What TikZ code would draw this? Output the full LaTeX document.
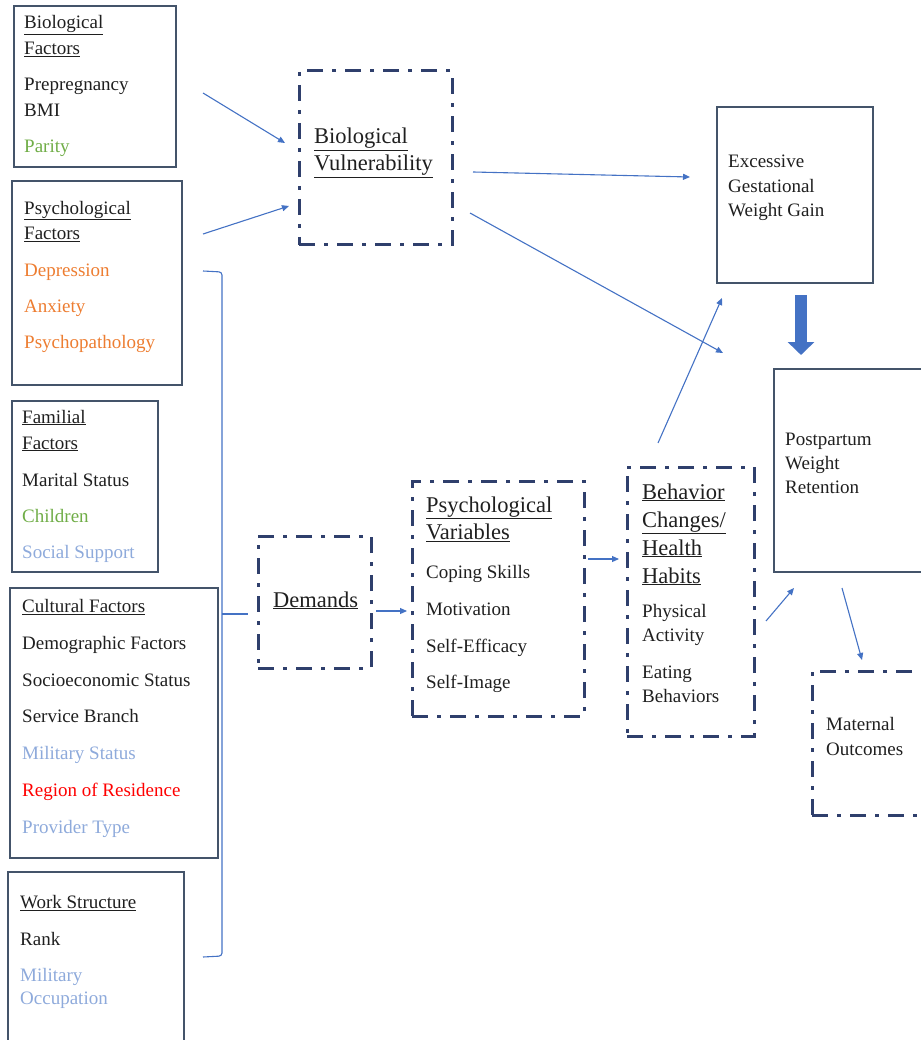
\documentclass[tikz,border=0pt]{standalone}
\usepackage{fontspec}
\setmainfont{Liberation Serif}
\usetikzlibrary{arrows.meta,calc}
\definecolor{Frame}{HTML}{44546A}
\definecolor{Navy}{HTML}{2F3F6C}
\definecolor{Link}{HTML}{4472C4}
\definecolor{Ink}{HTML}{1F1F1F}
\definecolor{Leaf}{HTML}{70AD47}
\definecolor{Amber}{HTML}{ED7D31}
\definecolor{Sky}{HTML}{8EAADB}
\definecolor{Alert}{HTML}{FF0000}
\newcommand{\tophead}[1]{{\fontsize{22.5}{27}\selectfont\underline{#1}}}

\begin{document}
\begin{tikzpicture}[
  x=1pt,y=-1pt,
  box/.style={draw=Frame,line width=1.2pt,anchor=north west,inner sep=0pt,outer sep=0pt},
  dbox/.style={box,draw=Navy,line width=3pt,dash pattern=on 16pt off 9pt on 4pt off 9pt},
  txt/.style={anchor=base west,inner sep=0pt,align=left,text=Ink,font=\fontsize{19}{26}\selectfont},
  arrow/.style={-{Triangle[length=7pt,width=6pt]},line width=1.1pt,draw=Link},
  link/.style={line width=1.1pt,draw=Link,rounded corners=3pt},
  fat/.style={-{Triangle[length=13pt,width=26pt]},line width=12pt,draw=Link}
]
\useasboundingbox (0,0) rectangle (920,1040);

\node[box,minimum width=162pt,minimum height=161pt] (biofac) at (14,6) {};
\node[txt] (biofac-t) at (24,153) {\underline{Biological}\\\underline{Factors}\\[10pt]Prepregnancy\\BMI\\[10pt]\textcolor{Leaf}{Parity}};
\node[box,minimum width=170pt,minimum height=204pt] (psyfac) at (12,181) {};
\node[txt] (psyfac-t) at (24,348) {\underline{Psychological}\\\underline{Factors}\\[10pt]\textcolor{Amber}{Depression}\\[10pt]\textcolor{Amber}{Anxiety}\\[10pt]\textcolor{Amber}{Psychopathology}};
\node[box,minimum width=146pt,minimum height=171pt] (famfac) at (12,401) {};
\node[txt] (famfac-t) at (22,558) {\underline{Familial}\\\underline{Factors}\\[11pt]Marital Status\\[10pt]\textcolor{Leaf}{Children}\\[10pt]\textcolor{Sky}{Social Support}};
\node[box,minimum width=208pt,minimum height=270pt] (culfac) at (10,588) {};
\node[txt] (culfac-t) at (22,833) {\underline{Cultural Factors}\\[10.7pt]Demographic Factors\\[10.7pt]Socioeconomic Status\\[10.7pt]Service Branch\\[10.7pt]\textcolor{Sky}{Military Status}\\[10.7pt]\textcolor{Alert}{Region of Residence}\\[10.7pt]\textcolor{Sky}{Provider Type}};
\node[box,minimum width=176pt,minimum height=180pt] (workst) at (8,872) {};
\node[txt] (workst-t) at (20,1004) {\underline{Work Structure}\\[11pt]Rank\\[10pt]\textcolor{Sky}{Military}\\[-3.5pt]\textcolor{Sky}{Occupation}};

\node[dbox,minimum width=153pt,minimum height=174pt] (biovul) at (299,71) {};
\node[txt,font=\fontsize{22.5}{27}\selectfont] (biovul-t) at (314,171) {\underline{Biological}\\\underline{Vulnerability}};
\node[box,minimum width=156pt,minimum height=176pt] (egwg) at (717,107) {};
\node[txt,font=\fontsize{19}{24.5}\selectfont] (egwg-t) at (728,217) {Excessive\\Gestational\\Weight Gain};
\node[box,minimum width=170pt,minimum height=203pt] (pwr) at (774,369) {};
\node[txt,font=\fontsize{19}{24}\selectfont] (pwr-t) at (785,493) {Postpartum\\Weight\\Retention};
\node[dbox,minimum width=113pt,minimum height=132pt] (demands) at (258,536) {};
\node[txt] (demands-t) at (273,607) {\tophead{Demands}};
\node[dbox,minimum width=172pt,minimum height=235pt] (psyvar) at (412,481) {};
\node[txt,font=\fontsize{19}{27}\selectfont] (psyvar-t) at (426,688) {\tophead{Psychological}\\\tophead{Variables}\\[12pt]Coping Skills\\[10pt]Motivation\\[10pt]Self-Efficacy\\[9pt]Self-Image};
\node[dbox,minimum width=127pt,minimum height=269pt] (behav) at (627,467) {};
\node[txt,font=\fontsize{19}{24}\selectfont] (behav-t) at (642,702) {\tophead{Behavior}\\[4pt]\tophead{Changes/}\\[4pt]\tophead{Health}\\[4pt]\tophead{Habits}\\[10pt]Physical\\Activity\\[13pt]Eating\\Behaviors};
\node[dbox,minimum width=130pt,minimum height=144pt] (matout) at (812,671) {};
\node[txt,font=\fontsize{19}{25}\selectfont] (matout-t) at (826,755) {Maternal\\Outcomes};

\draw[arrow] ($(biofac.east)+(27,6.5)$) -- ($(biovul.west)+(-14,-15)$);
\draw[arrow] ($(psyfac.north east)+(21,53)$) -- ($(biovul.west)+(-10,48)$);
\draw[arrow] ($(biovul.east)+(21,14)$) -- ($(egwg.west)+(-27,-18)$);
\draw[arrow] ($(biovul.east)+(18,55)$) -- ($(pwr.north west)+(-51,-16)$);
\draw[arrow] ($(behav.north)+(-32.5,-24)$) -- ($(egwg.south west)+(5,15)$);
\draw[arrow] ($(behav.east)+(12,19.5)$) -- ($(pwr.south west)+(20,16)$);
\draw[arrow] ($(pwr.south west)+(68,16)$) -- ($(matout.north west)+(50,-11)$);
\draw[arrow] ($(demands.east)+(5,9)$) -- ($(psyvar.west)+(-5,12.5)$);
\draw[arrow] ($(psyvar.east)+(4,-39.5)$) -- ($(behav.west)+(-8,-42.5)$);
\draw[fat] ($(egwg.south)+(6,12)$) -- ($(pwr.north west)+(27,-14)$);
\draw[link] ($(psyfac.north east)+(21,90)$) -- ++(19,1) -- ($(workst.north east)+(38,84)$) -- ++(-19,1);
\draw[link] ($(demands.west)+(-36,12)$) -- ($(demands.west)+(-10,12)$);
\end{tikzpicture}
\end{document}
